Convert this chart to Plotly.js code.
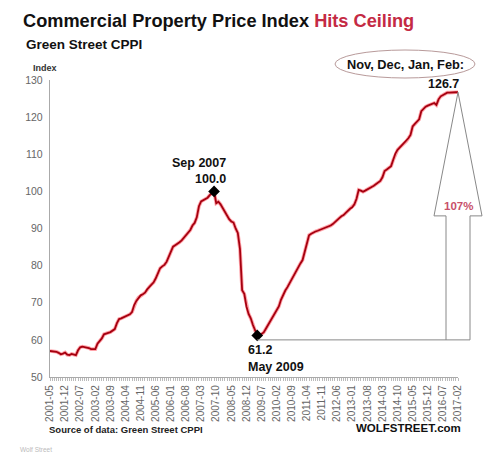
<!DOCTYPE html>
<html>
<head>
<meta charset="utf-8">
<script src="https://cdn.plot.ly/plotly-3.0.1.min.js"></script>
<style>html,body{margin:0;padding:0;background:#fff;}#chart{width:500px;height:458px;}</style>
</head>
<body>
<div id="chart"></div>
<script>
// ---- data ----
const startYear = 2001, startMonth = 5, monthCount = 190;
const months = [];
for (let k = 0; k < monthCount; k++) {
  const m = startMonth - 1 + k;
  const y = startYear + Math.floor(m / 12);
  const mm = (m % 12) + 1;
  months.push(y + '-' + (mm < 10 ? '0' : '') + mm);
}
const cppi = [
  57.0, 57.0, 56.9, 56.8, 56.5, 56.1, 56.3, 56.6, 56.0, 55.9,
  56.2, 56.1, 55.9, 57.2, 58.0, 58.2, 58.1, 58.0, 57.8, 57.5,
  57.4, 57.5, 59.0, 59.6, 60.4, 61.5, 61.8, 61.9, 62.1, 62.4,
  62.9, 64.5, 65.6, 65.8, 66.1, 66.5, 66.7, 66.9, 67.5, 69.4,
  70.5, 71.4, 72.0, 72.3, 72.7, 73.6, 74.3, 74.9, 75.5, 76.6,
  77.8, 79.3, 79.8, 80.2, 81.0, 82.5, 84.0, 85.1, 85.5, 85.8,
  86.3, 86.8, 87.5, 88.5, 89.2, 89.6, 90.8, 91.5, 93.0, 96.0,
  97.3, 97.7, 98.0, 98.3, 99.0, 99.4, 100.0, 96.8, 97.2, 96.5,
  95.4, 94.3, 93.2, 92.5, 91.9, 91.6, 90.0, 88.8, 84.5, 73.4,
  72.4, 69.0, 67.0, 65.8, 64.0, 62.5, 61.2, 61.2, 61.5, 62.0,
  63.0, 64.0, 65.0, 66.0, 66.8, 68.0, 69.0, 70.8, 72.2, 73.3,
  74.2, 75.3, 76.6, 77.7, 78.6, 79.6, 80.6, 81.5, 84.0, 86.5,
  88.2, 88.6, 89.0, 89.2, 89.4, 89.6, 89.8, 90.0, 90.3, 90.6,
  90.8, 91.2, 91.8, 92.2, 92.8, 93.3, 93.6, 94.2, 94.8, 95.3,
  95.7, 96.5, 98.0, 100.4, 100.2, 99.9, 100.2, 100.6, 101.0, 101.2,
  101.5, 102.0, 102.4, 102.8, 103.8, 105.5, 105.9, 106.3, 106.8, 108.5,
  110.2, 111.2, 111.8, 112.3, 112.9, 113.5, 114.3, 115.2, 117.5, 118.2,
  118.8, 119.4, 121.6, 122.3, 122.8, 123.1, 123.4, 123.7, 123.8, 123.3,
  124.8, 125.6, 126.0, 126.4, 126.6, 126.6, 126.7, 126.7, 126.7, 126.7
];
const labelEvery = 7;
const tickLabels = months.map((m, k) => (k % labelEvery === 0 ? m : ''));
const yTicks = [50, 60, 70, 80, 90, 100, 110, 120, 130];
const peakMonth = '2007-09', peakValue = 100.0;
const troughMonth = '2009-05', troughValue = 61.2;
const lastValue = 126.7;
const gainPct = '107%';

// ---- layout helpers (pixel geometry of the frame) ----
const W = 500, H = 458;
const M = {l: 50, r: 42, t: 80, b: 81};
const pw = W - M.l - M.r, ph = H - M.t - M.b;
const yMin = 50, yMax = 130;
const px2x = p => (p - M.l) / pw;
const px2y = p => (H - M.b - p) / ph;
const v2y = v => (v - yMin) / (yMax - yMin);
const idx2x = i => i / (monthCount - 1);

const lastIdx = monthCount - 1;
const troughIdx = months.indexOf(troughMonth);
const arrowCx = idx2x(lastIdx);
const stemHalf = 12 / pw, headHalf = 24 / pw;
const tipY = v2y(lastValue), baseY = v2y(93.4), botY = v2y(60.0);
const arrowPath = 'M' + (arrowCx - stemHalf) + ',' + botY +
  ' L' + (arrowCx - stemHalf) + ',' + baseY +
  ' L' + (arrowCx - headHalf) + ',' + baseY +
  ' L' + arrowCx + ',' + tipY +
  ' L' + (arrowCx + headHalf) + ',' + baseY +
  ' L' + (arrowCx + stemHalf) + ',' + baseY +
  ' L' + (arrowCx + stemHalf) + ',' + botY;

const traces = [
  {x: months, y: cppi, type: 'scatter', mode: 'lines',
   line: {color: '#ff3040', width: 3.6}, opacity: 0.45, hoverinfo: 'skip', showlegend: false},
  {x: months, y: cppi, type: 'scatter', mode: 'lines',
   line: {color: '#a5000f', width: 1.8}, showlegend: false},
  {x: [peakMonth, troughMonth], y: [peakValue, troughValue], type: 'scatter', mode: 'markers',
   marker: {symbol: 'diamond', size: 9, color: '#000'}, showlegend: false}
];

const bold = 'Liberation Sans, Arial, sans-serif';
const layout = {
  width: W, height: H,
  margin: M,
  paper_bgcolor: '#fff', plot_bgcolor: '#fff',
  showlegend: false,
  title: {
    text: '<b>Commercial Property Price Index <span style="color:#c42a44">Hits Ceiling</span></b>',
    font: {family: bold, size: 18.2, color: '#111'},
    xref: 'container', yref: 'container', x: 23 / W, xanchor: 'left', y: 1 - 21 / H, yanchor: 'middle'
  },
  xaxis: {
    type: 'category', range: [0, lastIdx],
    tickmode: 'array', tickvals: months, ticktext: tickLabels,
    tickangle: -90, ticks: 'outside', ticklen: 3, tickcolor: '#bbb',
    tickfont: {family: 'Liberation Sans, Arial, sans-serif', size: 10, color: '#666'},
    showline: true, linecolor: '#aaa', linewidth: 1.2, showgrid: false, zeroline: false,
    fixedrange: true
  },
  yaxis: {
    range: [yMin, yMax], tickmode: 'array', tickvals: yTicks,
    ticks: '', tickfont: {family: 'Liberation Sans, Arial, sans-serif', size: 10.5, color: '#666'},
    showline: true, linecolor: '#aaa', linewidth: 1.2, showgrid: false, zeroline: false,
    ticklabelstandoff: 4, fixedrange: true
  },
  shapes: [
    {type: 'line', xref: 'paper', yref: 'paper',
     x0: idx2x(troughIdx), x1: arrowCx + stemHalf, y0: botY, y1: botY,
     line: {color: '#888', width: 1}},
    {type: 'path', xref: 'paper', yref: 'paper', path: arrowPath,
     line: {color: '#888', width: 1}},
    {type: 'circle', xref: 'paper', yref: 'paper',
     x0: px2x(335), x1: px2x(475), y0: px2y(78), y1: px2y(50),
     line: {color: '#b89a9a', width: 1}}
  ],
  annotations: [
    {text: '<b>Green Street CPPI</b>', xref: 'paper', yref: 'paper', x: px2x(24), y: px2y(45),
     xanchor: 'left', yanchor: 'middle', showarrow: false, font: {family: bold, size: 13.5, color: '#111'}},
    {text: '<b>Index</b>', xref: 'paper', yref: 'paper', x: px2x(31), y: px2y(68),
     xanchor: 'left', yanchor: 'middle', showarrow: false, font: {family: bold, size: 9, color: '#333'}},
    {text: '<b>Sep 2007</b>', xref: 'paper', yref: 'paper', x: px2x(228), y: px2y(163),
     xanchor: 'right', yanchor: 'middle', showarrow: false, font: {family: bold, size: 12.5, color: '#111'}},
    {text: '<b>' + peakValue.toFixed(1) + '</b>', xref: 'paper', yref: 'paper', x: px2x(228), y: px2y(179),
     xanchor: 'right', yanchor: 'middle', showarrow: false, font: {family: bold, size: 12.5, color: '#111'}},
    {text: '<b>' + troughValue.toFixed(1) + '</b>', xref: 'paper', yref: 'paper', x: px2x(246), y: px2y(350),
     xanchor: 'left', yanchor: 'middle', showarrow: false, font: {family: bold, size: 12.5, color: '#111'}},
    {text: '<b>May 2009</b>', xref: 'paper', yref: 'paper', x: px2x(246), y: px2y(367),
     xanchor: 'left', yanchor: 'middle', showarrow: false, font: {family: bold, size: 12.5, color: '#111'}},
    {text: '<b>Nov, Dec, Jan, Feb:</b>', xref: 'paper', yref: 'paper', x: px2x(405), y: px2y(65),
     xanchor: 'center', yanchor: 'middle', showarrow: false, font: {family: bold, size: 12.8, color: '#111'}},
    {text: '<b>' + lastValue.toFixed(1) + '</b>', xref: 'paper', yref: 'paper', x: px2x(461), y: px2y(84),
     xanchor: 'right', yanchor: 'middle', showarrow: false, font: {family: bold, size: 12.5, color: '#111'}},
    {text: '<b>' + gainPct + '</b>', xref: 'paper', yref: 'paper', x: arrowCx, y: px2y(206),
     xanchor: 'center', yanchor: 'middle', showarrow: false, font: {family: bold, size: 11.5, color: '#c8506a'}},
    {text: '<b>Source of data: Green Street CPPI</b>', xref: 'paper', yref: 'paper', x: px2x(47), y: px2y(429),
     xanchor: 'left', yanchor: 'middle', showarrow: false, font: {family: bold, size: 9.5, color: '#222'}},
    {text: '<b>WOLFSTREET.com</b>', xref: 'paper', yref: 'paper', x: px2x(463), y: px2y(428),
     xanchor: 'right', yanchor: 'middle', showarrow: false, font: {family: bold, size: 11.5, color: '#111'}},
    {text: 'Wolf Street', xref: 'paper', yref: 'paper', x: px2x(18), y: px2y(449),
     xanchor: 'left', yanchor: 'middle', showarrow: false, font: {family: bold, size: 6.5, color: '#bbb'}}
  ]
};

Plotly.newPlot('chart', traces, layout, {staticPlot: true, displayModeBar: false});
</script>
</body>
</html>
